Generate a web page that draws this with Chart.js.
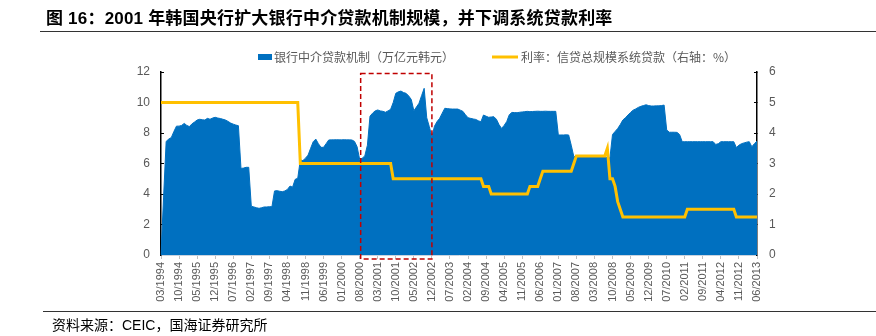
<!DOCTYPE html>
<html>
<head>
<meta charset="utf-8">
<script src="https://cdn.jsdelivr.net/npm/chart.js@4.4.1/dist/chart.umd.min.js"></script>
<style>
  html, body { margin: 0; padding: 0; background: #fff; }
  #wrap { position: relative; width: 876px; height: 336px; overflow: hidden; }
  #chart { position: absolute; left: 0; top: 0; }
  .title { position: absolute; left: 46px; top: 4px; font: bold 17px "Liberation Sans", "Noto Sans CJK SC", sans-serif; color: #000; white-space: nowrap; letter-spacing: 0.2px; }
  .rule { position: absolute; height: 1px; background: #333; }
  .source { position: absolute; left: 52px; top: 314px; font: 14px "Liberation Sans", "Noto Sans CJK SC", sans-serif; color: #000; white-space: nowrap; }
</style>
</head>
<body>
<div id="wrap">
  <canvas id="chart" width="876" height="336"></canvas>
  <div class="title">图 16：2001 年韩国央行扩大银行中介贷款机制规模，并下调系统贷款利率</div>
  <div class="rule" style="left:40px; right:0; top:31px;"></div>
  <div class="rule" style="left:43px; right:0; top:311px;"></div>
  <div class="source">资料来源：CEIC，国海证券研究所</div>
</div>
<script>
// Monthly observations, 03/1994 – 06/2013
const startYear = 1994;
const startMonth = 3;
const monthCount = 232;
const months = [];
for (let k = 0; k < monthCount; k++) {
  const m = (startMonth - 1 + k) % 12 + 1;
  const y = startYear + Math.floor((startMonth - 1 + k) / 12);
  months.push(String(m).padStart(2, '0') + '/' + y);
}
// every 7th month is labelled on the axis
const labelEvery = 7;

// Bank intermediated lending facility (trillion KRW), left axis
const facilityTrillionKRW = [
  0, 3.8, 7.45, 7.6, 7.7, 8.1, 8.45, 8.45, 8.5, 8.63,
  8.5, 8.42, 8.6, 8.72, 8.85, 8.9, 8.87, 8.85, 8.96, 8.9,
  8.98, 9.03, 8.98, 8.95, 8.9, 8.85, 8.76, 8.65, 8.58, 8.52,
  8.48, 5.68, 5.7, 5.75, 5.75, 3.2, 3.15, 3.1, 3.06, 3.1,
  3.15, 3.15, 3.17, 3.17, 4.2, 4.22, 4.18, 4.15, 4.2, 4.3,
  4.52, 4.45, 4.96, 5.03, 6.23, 6.19, 6.35, 6.55, 7.0, 7.43,
  7.6, 7.3, 7.06, 7.06, 7.3, 7.54, 7.55, 7.55, 7.56, 7.55,
  7.55, 7.56, 7.55, 7.55, 7.54, 7.45, 7.1, 6.27, 6.35, 6.5,
  7.2, 9.1, 9.3, 9.45, 9.51, 9.45, 9.42, 9.36, 9.45, 9.55,
  10.0, 10.6, 10.7, 10.75, 10.65, 10.6, 10.43, 10.2, 9.46, 9.7,
  9.95, 10.45, 10.93, 9.0, 8.41, 7.76, 8.45, 8.75, 8.96, 9.3,
  9.62, 9.6, 9.58, 9.57, 9.57, 9.57, 9.5, 9.42, 9.2, 9.0,
  8.96, 8.92, 8.89, 8.8, 8.74, 9.18, 9.1, 9.03, 9.05, 9.07,
  8.9, 8.55, 8.3, 8.5, 8.75, 9.2, 9.35, 9.34, 9.33, 9.36,
  9.38, 9.4, 9.42, 9.4, 9.41, 9.42, 9.43, 9.42, 9.42, 9.43,
  9.42, 9.42, 9.42, 9.42, 7.87, 7.87, 7.87, 7.88, 7.87, 7.2,
  6.45, 6.45, 6.45, 6.46, 6.45, 6.45, 6.44, 6.45, 6.45, 6.44,
  6.44, 6.43, 6.42, 6.4, 6.36, 7.9, 8.1, 8.29, 8.55, 8.85,
  9.0, 9.18, 9.35, 9.5, 9.58, 9.68, 9.75, 9.8, 9.85, 9.8,
  9.77, 9.77, 9.78, 9.78, 9.8, 9.83, 8.2, 8.05, 8.05, 8.05,
  8.04, 7.9, 7.43, 7.43, 7.43, 7.43, 7.43, 7.43, 7.43, 7.43,
  7.43, 7.43, 7.43, 7.43, 7.43, 7.25, 7.3, 7.43, 7.43, 7.43,
  7.43, 7.43, 7.43, 7.05, 7.2, 7.3, 7.35, 7.4, 7.43, 7.1,
  7.3, 7.47
];

// Aggregate credit ceiling loan rate (%), right axis
const ceilingLoanRate = [
  5, 5, 5, 5, 5, 5, 5, 5, 5, 5,
  5, 5, 5, 5, 5, 5, 5, 5, 5, 5,
  5, 5, 5, 5, 5, 5, 5, 5, 5, 5,
  5, 5, 5, 5, 5, 5, 5, 5, 5, 5,
  5, 5, 5, 5, 5, 5, 5, 5, 5, 5,
  5, 5, 5, 5, 3, 3, 3, 3, 3, 3,
  3, 3, 3, 3, 3, 3, 3, 3, 3, 3,
  3, 3, 3, 3, 3, 3, 3, 3, 3, 3,
  3, 3, 3, 3, 3, 3, 3, 3, 3, 3,
  2.5, 2.5, 2.5, 2.5, 2.5, 2.5, 2.5, 2.5, 2.5, 2.5,
  2.5, 2.5, 2.5, 2.5, 2.5, 2.5, 2.5, 2.5, 2.5, 2.5,
  2.5, 2.5, 2.5, 2.5, 2.5, 2.5, 2.5, 2.5, 2.5, 2.5,
  2.5, 2.5, 2.5, 2.5, 2.5, 2.25, 2.25, 2.25, 2, 2,
  2, 2, 2, 2, 2, 2, 2, 2, 2, 2,
  2, 2, 2, 2.25, 2.25, 2.25, 2.25, 2.5, 2.75, 2.75,
  2.75, 2.75, 2.75, 2.75, 2.75, 2.75, 2.75, 2.75, 2.75, 2.75,
  3, 3.25, 3.25, 3.25, 3.25, 3.25, 3.25, 3.25, 3.25, 3.25,
  3.25, 3.25, 3.25, 3.5, 2.5, 2.5, 2.25, 1.75, 1.5, 1.25,
  1.25, 1.25, 1.25, 1.25, 1.25, 1.25, 1.25, 1.25, 1.25, 1.25,
  1.25, 1.25, 1.25, 1.25, 1.25, 1.25, 1.25, 1.25, 1.25, 1.25,
  1.25, 1.25, 1.25, 1.25, 1.5, 1.5, 1.5, 1.5, 1.5, 1.5,
  1.5, 1.5, 1.5, 1.5, 1.5, 1.5, 1.5, 1.5, 1.5, 1.5,
  1.5, 1.5, 1.5, 1.25, 1.25, 1.25, 1.25, 1.25, 1.25, 1.25,
  1.25, 1.25
];

const leftTicks = [0, 2, 4, 6, 8, 10, 12];
const rightTicks = [0, 1, 2, 3, 4, 5, 6];
const seriesNames = ['银行中介贷款机制（万亿元韩元）', '利率：信贷总规模系统贷款（右轴：%）'];
// highlighted expansion period
const highlightFrom = '08/2000';
const highlightTo = '12/2002';

const BLUE = '#0070C0';
const GOLD = '#FFC000';
const TICK_GREY = '#595959';

// dashed frame around the highlighted period
const highlightBox = {
  id: 'highlightBox',
  afterDatasetsDraw(chart) {
    const { ctx, chartArea, scales } = chart;
    const x1 = scales.x.getPixelForValue(months.indexOf(highlightFrom));
    const x2 = scales.x.getPixelForValue(months.indexOf(highlightTo));
    const y1 = chartArea.top + 1.5;
    const y2 = chartArea.bottom + 4;
    ctx.save();
    ctx.strokeStyle = '#C00000';
    ctx.lineWidth = 1.5;
    ctx.setLineDash([5, 3]);
    ctx.strokeRect(x1 + 1, y1, x2 - x1 - 1, y2 - y1);
    ctx.restore();
  }
};

// legend row above the plot
const legendRow = {
  id: 'legendRow',
  afterDraw(chart) {
    const { ctx } = chart;
    const cy = 57;
    ctx.save();
    ctx.font = '12px "Noto Sans CJK SC", sans-serif';
    ctx.textBaseline = 'middle';
    ctx.fillStyle = BLUE;
    ctx.fillRect(258, cy - 3, 14, 6);
    ctx.fillStyle = TICK_GREY;
    ctx.fillText(seriesNames[0], 274, cy + 0.5);
    ctx.strokeStyle = GOLD;
    ctx.lineWidth = 3;
    ctx.beginPath();
    ctx.moveTo(492, cy);
    ctx.lineTo(518, cy);
    ctx.stroke();
    ctx.fillStyle = TICK_GREY;
    ctx.fillText(seriesNames[1], 521, cy + 0.5);
    ctx.restore();
  }
};

new Chart(document.getElementById('chart'), {
  type: 'line',
  data: {
    labels: months,
    datasets: [
      {
        label: seriesNames[1],
        data: ceilingLoanRate,
        yAxisID: 'y1',
        borderColor: GOLD,
        borderWidth: 3,
        pointRadius: 0,
        fill: false,
        tension: 0,
        order: 0
      },
      {
        label: seriesNames[0],
        data: facilityTrillionKRW,
        yAxisID: 'y',
        borderColor: BLUE,
        backgroundColor: BLUE,
        borderWidth: 1,
        pointRadius: 0,
        fill: 'origin',
        tension: 0,
        order: 1
      }
    ]
  },
  options: {
    responsive: false,
    animation: false,
    events: [],
    layout: { padding: { top: 72, left: 0, right: 0, bottom: 0 } },
    plugins: { legend: { display: false }, tooltip: { enabled: false }, title: { display: false } },
    scales: {
      x: {
        type: 'category',
        offset: false,
        border: { color: '#C9D3DF', width: 1 },
        grid: {
          drawOnChartArea: false,
          drawTicks: true,
          tickLength: 4,
          color: (c) => (c.index % labelEvery === 0 ? '#BFBFBF' : 'rgba(0,0,0,0)')
        },
        ticks: {
          autoSkip: false,
          minRotation: 90,
          maxRotation: 90,
          padding: 3,
          color: TICK_GREY,
          font: { family: '"Liberation Sans", Arial, sans-serif', size: 11 },
          callback: (v, i) => (i % labelEvery === 0 ? months[i] : '')
        },
        afterFit: (s) => { s.height = 81; }
      },
      y: {
        position: 'left',
        min: 0,
        max: 12,
        afterBuildTicks: (s) => { s.ticks = leftTicks.map(v => ({ value: v })); },
        border: { color: '#000', width: 1.5 },
        grid: { drawOnChartArea: false, drawTicks: true, tickLength: -3, color: '#000', lineWidth: 1 },
        ticks: {
          padding: 14,
          color: TICK_GREY,
          font: { family: '"Liberation Sans", Arial, sans-serif', size: 12 }
        },
        afterFit: (s) => { s.width = 161; }
      },
      y1: {
        position: 'right',
        min: 0,
        max: 6,
        afterBuildTicks: (s) => { s.ticks = rightTicks.map(v => ({ value: v })); },
        border: { color: '#000', width: 1.5 },
        grid: { drawOnChartArea: false, drawTicks: true, tickLength: -3, color: '#000', lineWidth: 1 },
        ticks: {
          padding: 15,
          color: TICK_GREY,
          font: { family: '"Liberation Sans", Arial, sans-serif', size: 12 }
        },
        afterFit: (s) => { s.width = 119; }
      }
    }
  },
  plugins: [highlightBox, legendRow]
});
</script>
</body>
</html>
